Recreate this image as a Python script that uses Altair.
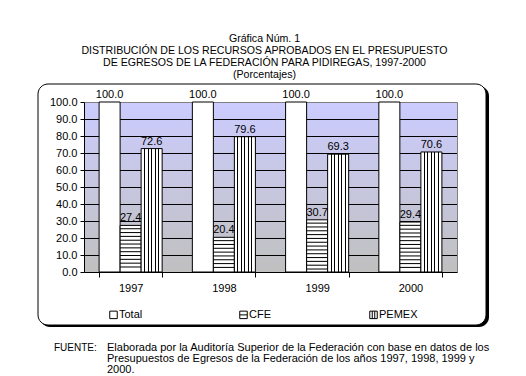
import altair as alt
import pandas as pd

# ---------------- data ----------------
years = ["1997", "1998", "1999", "2000"]
series = ["Total", "CFE", "PEMEX"]
total = [100.0, 100.0, 100.0, 100.0]
cfe = [27.4, 20.4, 30.7, 29.4]
pemex = [72.6, 79.6, 69.3, 70.6]
y_ticks = [0, 10, 20, 30, 40, 50, 60, 70, 80, 90, 100]

title_lines = [
    "Gráfica Núm. 1",
    "DISTRIBUCIÓN DE LOS RECURSOS APROBADOS EN EL PRESUPUESTO",
    "DE EGRESOS DE LA FEDERACIÓN PARA PIDIREGAS, 1997-2000",
    "(Porcentajes)",
]
footnote_label = "FUENTE:"
footnote_lines = [
    "Elaborada por la Auditoría Superior de la Federación con base en datos de los",
    "Presupuestos de Egresos de la Federación de los años 1997, 1998, 1999 y",
    "2000.",
]

rows = []
for i, yr in enumerate(years):
    for s, vals in zip(series, [total, cfe, pemex]):
        rows.append({"year": yr, "serie": s, "value": vals[i]})
df = pd.DataFrame(rows)

# horizontal hatch lines for the CFE bars (pattern, step 2.25 units)
stripe_rows = []
for yr, v in zip(years, cfe):
    k = 1
    while v - k * 2.25 > 0.6:
        y0 = v - k * 2.25
        stripe_rows.append({"year": yr, "serie": "CFE", "value": y0, "value2": y0 + 0.6})
        k += 1
stripes = pd.DataFrame(stripe_rows)
grid_df = pd.DataFrame({"value": y_ticks[1:-1]})
one = pd.DataFrame({"a": [0]})

# ---------------- styling ----------------
W, H = 373, 170
FONT = "Liberation Sans"

bg_grad = alt.LinearGradient(
    gradient="linear",
    stops=[alt.GradientStop(color="#CCCCFF", offset=0),
           alt.GradientStop(color="#C0C0C0", offset=1)],
    x1=0, x2=0, y1=0, y2=1,
)
vstops = [alt.GradientStop(color="white", offset=0)]
for i in range(1, 6):
    c = i / 6
    vstops += [
        alt.GradientStop(color="white", offset=round(c - 0.026, 4)),
        alt.GradientStop(color="black", offset=round(c - 0.025, 4)),
        alt.GradientStop(color="black", offset=round(c + 0.025, 4)),
        alt.GradientStop(color="white", offset=round(c + 0.026, 4)),
    ]
vstops.append(alt.GradientStop(color="white", offset=1))
pemex_grad = alt.LinearGradient(gradient="linear", stops=vstops, x1=0, x2=1, y1=0, y2=0)

yscale = alt.Scale(domain=[0, 100], nice=False)
x_enc = alt.X(
    "year:N", sort=years,
    scale=alt.Scale(domain=years, paddingInner=0.324, paddingOuter=0.162),
    axis=alt.Axis(title=None, labelAngle=0, tickBand="extent", tickSize=5,
                  labelPadding=5, domainColor="black", tickColor="black",
                  labelColor="black", labelFontSize=11, labelFont=FONT,
                  zindex=1, grid=False),
)
xoff = alt.XOffset("serie:N", sort=series,
                   scale=alt.Scale(domain=series, paddingInner=0, paddingOuter=0))
y_axis = alt.Axis(title=None, values=y_ticks, format=".1f", tickSize=4,
                  labelPadding=3, domainColor="black", tickColor="black",
                  labelColor="black", labelFontSize=11, labelFont=FONT,
                  zindex=1, grid=False)
y_enc = alt.Y("value:Q", scale=yscale, axis=y_axis)

# ---------------- layers ----------------
base = alt.Chart(df)

shape_paths = [
    "M-1,-1H1V1H-1Z",
    "M-1,-1H1V1H-1Z M-1,0H1",
    "M-1,-1H1V1H-1Z M-0.33,-1V1 M0.33,-1V1",
]
legend_layer = base.mark_point(
    filled=False, color="black", stroke="black", strokeWidth=1, opacity=1).encode(
    shape=alt.Shape("serie:N", sort=series,
                    scale=alt.Scale(domain=series, range=shape_paths),
                    legend=alt.Legend(title=None, orient="none", legendX=24, legendY=207,
                                      direction="horizontal", columns=3, gridAlign="all",
                                      columnPadding=79, symbolSize=56,
                                      symbolStrokeColor="black", symbolStrokeWidth=1,
                                      symbolOpacity=1,
                                      labelOffset=0, labelFont=FONT, labelFontSize=11,
                                      labelColor="black", padding=0)))

shadow = alt.Chart(one).mark_rect(fill="black", cornerRadius=10).encode(
    x=alt.value(-44), x2=alt.value(405), y=alt.value(-16), y2=alt.value(225))
frame = alt.Chart(one).mark_rect(fill="white", stroke="black", strokeWidth=1,
                                 cornerRadius=10).encode(
    x=alt.value(-46), x2=alt.value(402), y=alt.value(-18), y2=alt.value(223))

background = alt.Chart(one).mark_rect(fill=bg_grad, stroke="#808080",
                                      strokeWidth=1).encode(
    x=alt.value(0.5), x2=alt.value(W + 0.5), y=alt.value(0.5), y2=alt.value(H + 0.5))

grid = alt.Chart(grid_df).mark_rule(color="black", strokeWidth=1, yOffset=0.5).encode(
    y=y_enc, x=alt.value(0), x2=alt.value(W))

bar_total = base.transform_filter(alt.datum.serie == "Total").mark_bar(
    fill="white", stroke="black", strokeWidth=1).encode(x=x_enc, xOffset=xoff, y=y_enc)
bar_cfe = base.transform_filter(alt.datum.serie == "CFE").mark_bar(
    fill="white", stroke="black", strokeWidth=1).encode(x=x_enc, xOffset=xoff, y=y_enc)
hatch = alt.Chart(stripes).mark_bar(fill="black").encode(
    x=x_enc, xOffset=xoff, y=y_enc, y2="value2:Q")
bar_pemex = base.transform_filter(alt.datum.serie == "PEMEX").mark_bar(
    fill=pemex_grad, stroke="black", strokeWidth=1).encode(x=x_enc, xOffset=xoff, y=y_enc)

labels = base.mark_text(baseline="alphabetic", dy=-4, fontSize=11, font=FONT,
                        color="black").encode(
    x=x_enc, xOffset=xoff, y=y_enc, text=alt.Text("value:Q", format=".1f"))

foot_label = alt.Chart(one).mark_text(
    text=footnote_label, align="left", baseline="alphabetic", fontSize=10,
    font=FONT, color="black").encode(x=alt.value(-30), y=alt.value(249))
foot_text = alt.Chart(one).mark_text(
    text=footnote_lines, align="left", baseline="alphabetic", fontSize=11,
    lineHeight=11, font=FONT, color="black").encode(x=alt.value(23), y=alt.value(249))

chart = alt.layer(
    legend_layer, shadow, frame, background, grid, bar_total, bar_cfe, hatch, bar_pemex,
    labels, foot_label, foot_text,
).properties(
    width=W, height=H,
    padding={"left": 76, "top": 94, "right": 61, "bottom": 104},
    autosize=alt.AutoSizeParams(type="none"),
    title=alt.Title(text=title_lines, anchor="middle", frame="group", dx=-6,
                    offset=3, fontSize=10.6, font=FONT, fontWeight="normal",
                    lineHeight=12, color="black"),
).configure_view(stroke=None)

chart.save("out.html", embed_options={"renderer": "svg", "actions": False})
